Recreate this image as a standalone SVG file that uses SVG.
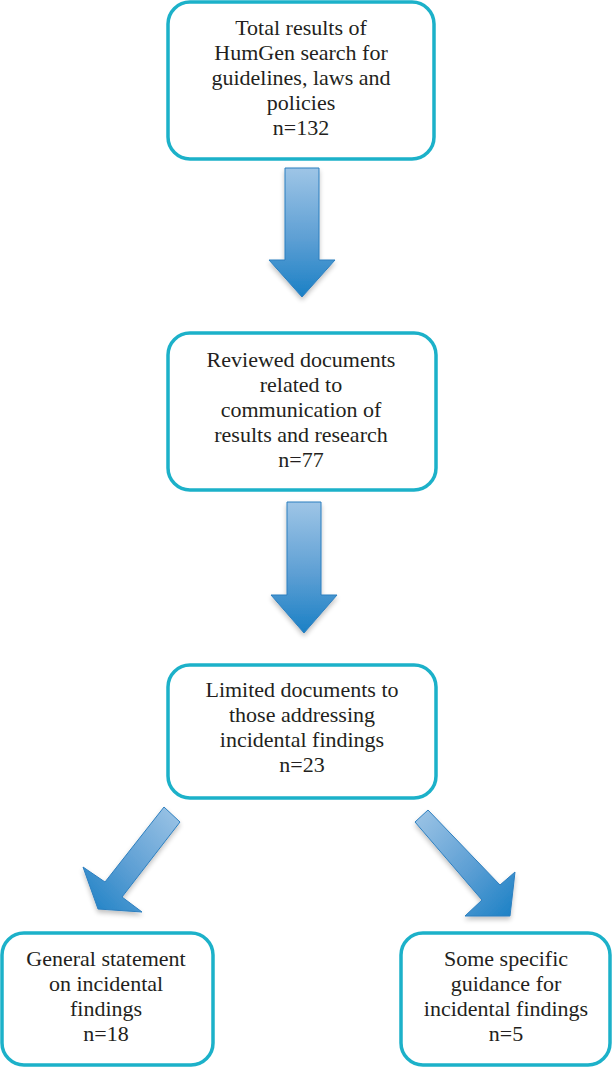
<svg xmlns="http://www.w3.org/2000/svg" width="614" height="1068" viewBox="0 0 614 1068">
<style>
.box{fill:#ffffff;stroke:#1cb1c9;stroke-width:3.5}
text{font-family:'Liberation Serif','Times New Roman','DejaVu Serif',serif;font-size:22px;fill:#231f20;text-anchor:middle}
.arr{stroke:#2d7fbf;stroke-width:1;filter:url(#sh)}
</style>
<defs>
<linearGradient id="gv" x1="0" y1="0" x2="0" y2="1">
<stop offset="0" stop-color="#9ec5e6"/>
<stop offset="0.55" stop-color="#5d9fd4"/>
<stop offset="1" stop-color="#1a80c5"/>
</linearGradient>
<linearGradient id="gl" x1="1" y1="0" x2="0" y2="1">
<stop offset="0" stop-color="#9ec5e6"/>
<stop offset="0.55" stop-color="#5d9fd4"/>
<stop offset="1" stop-color="#1a80c5"/>
</linearGradient>
<linearGradient id="gr" x1="0" y1="0" x2="1" y2="1">
<stop offset="0" stop-color="#9ec5e6"/>
<stop offset="0.55" stop-color="#5d9fd4"/>
<stop offset="1" stop-color="#1a80c5"/>
</linearGradient>
<filter id="sh" x="-30%" y="-30%" width="160%" height="160%">
<feGaussianBlur in="SourceAlpha" stdDeviation="2.5"/>
<feOffset dx="0" dy="3" result="b"/>
<feComponentTransfer><feFuncA type="linear" slope="0.25"/></feComponentTransfer>
<feMerge><feMergeNode/><feMergeNode in="SourceGraphic"/></feMerge>
</filter>
</defs>
<g id="connectors">
<polygon class="arr" fill="url(#gv)" points="285,168 319,168 319,260 335,260 302,297 269,260 285,260"/>
<polygon class="arr" fill="url(#gv)" points="287,502 321,502 321,595 337,595 304,633 271,595 287,595"/>
<polygon class="arr" fill="url(#gl)" points="164,807 180,822 122,897 142,912 98,909 83,867 105,882"/>
<polygon class="arr" fill="url(#gr)" points="428,810 500,885 515,872 510,916 465,916 482,900 415,822"/>
</g>
<g id="node1" font-family="Liberation Serif, serif">
<rect class="box" x="168" y="2" width="266" height="157" rx="22"/>
<text x="301" y="35">Total results of</text>
<text x="301" y="60">HumGen search for</text>
<text x="301" y="85">guidelines, laws and</text>
<text x="301" y="110">policies</text>
<text x="301" y="135">n=132</text>
</g>
<g id="node2" font-family="Liberation Serif, serif">
<rect class="box" x="168" y="333" width="268" height="157" rx="22"/>
<text x="301" y="367">Reviewed documents</text>
<text x="301" y="392">related to</text>
<text x="301" y="417">communication of</text>
<text x="301" y="442">results and research</text>
<text x="301" y="467">n=77</text>
</g>
<g id="node3" font-family="Liberation Serif, serif">
<rect class="box" x="168" y="665" width="268" height="133" rx="22"/>
<text x="302" y="697">Limited documents to</text>
<text x="302" y="722">those addressing</text>
<text x="302" y="747">incidental findings</text>
<text x="302" y="772">n=23</text>
</g>
<g id="node4" font-family="Liberation Serif, serif">
<rect class="box" x="2" y="933" width="211" height="132" rx="22"/>
<text x="106" y="966">General statement</text>
<text x="106" y="991">on incidental</text>
<text x="106" y="1016">findings</text>
<text x="106" y="1041">n=18</text>
</g>
<g id="node5" font-family="Liberation Serif, serif">
<rect class="box" x="401" y="933" width="209" height="132" rx="22"/>
<text x="506" y="966">Some specific</text>
<text x="506" y="991">guidance for</text>
<text x="506" y="1016">incidental findings</text>
<text x="506" y="1041">n=5</text>
</g>
</svg>
